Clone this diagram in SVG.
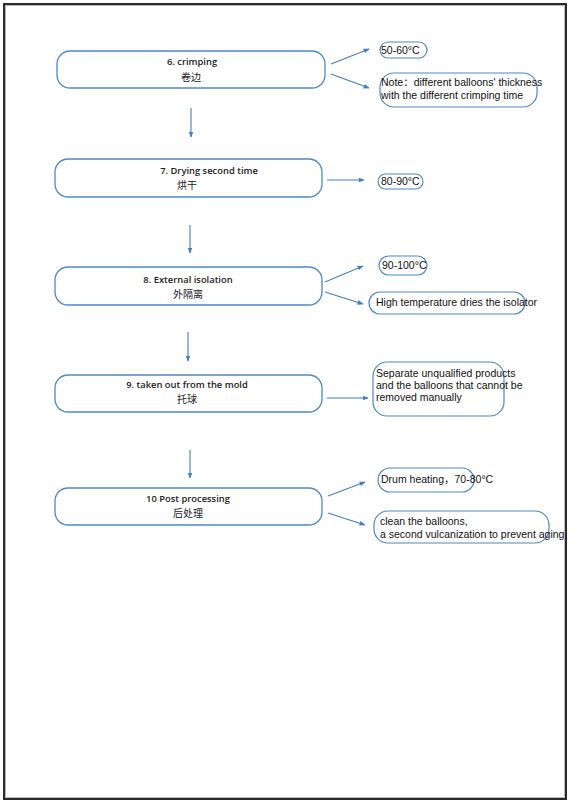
<svg xmlns="http://www.w3.org/2000/svg" width="570" height="804" viewBox="0 0 570 804">
<style>
.node{fill:#fff;stroke:#4f88c6;stroke-width:1.3}
.pill{fill:#fff;stroke:#4f88c6;stroke-width:1.2}
.nt{font-family:"Open Sans","DejaVu Sans","Noto Sans CJK SC",sans-serif;font-size:9.4px;font-weight:600;fill:#222;text-anchor:middle}
.ct{font-family:"Noto Sans CJK SC",sans-serif;font-size:10px;fill:#222;text-anchor:middle}
.st{font-family:"Liberation Sans","Noto Sans CJK SC",sans-serif;font-size:10.5px;fill:#111}
.conn line{stroke:#3f7fc0;stroke-width:1.1;marker-end:url(#ah)}
</style>
<defs>
<marker id="ah" viewBox="0 0 10 10" refX="9" refY="5" markerWidth="6" markerHeight="6" markerUnits="userSpaceOnUse" orient="auto">
<path d="M0,1 L10,5 L0,9 Z" fill="#3f7fc0"/>
</marker>
</defs>
<rect x="0" y="0" width="570" height="804" fill="#fff"/>
<rect x="4" y="4" width="562" height="795" fill="none" stroke="#2a2a2a" stroke-width="2"/>
<rect x="5.5" y="5.5" width="559" height="792" fill="none" stroke="#aaa" stroke-width="0.8"/>

<g id="node6">
<rect class="node" x="57" y="51" width="268" height="37" rx="13"/>
<text class="nt" x="192" y="65">6. crimping</text>
<text class="ct" x="191" y="81">卷边</text>
</g>
<g id="n6a">
<rect class="pill" x="380" y="42" width="47" height="16" rx="8"/>
<text class="st" x="381" y="54">50-60°C</text>
</g>
<g id="n6b">
<rect class="pill" x="380" y="73" width="157" height="34" rx="14"/>
<text class="st" x="381" y="86">Note：different balloons' thickness</text>
<text class="st" x="381" y="99">with the different crimping time</text>
</g>

<g id="node7">
<rect class="node" x="55" y="159" width="267" height="38" rx="13"/>
<text class="nt" x="209" y="174">7. Drying second time</text>
<text class="ct" x="187" y="189">烘干</text>
</g>
<g id="n7a">
<rect class="pill" x="378" y="174" width="45" height="15" rx="7.5"/>
<text class="st" x="381" y="185">80-90°C</text>
</g>

<g id="node8">
<rect class="node" x="55" y="267" width="267" height="38" rx="13"/>
<text class="nt" x="188" y="283">8. External isolation</text>
<text class="ct" x="188" y="298">外隔离</text>
</g>
<g id="n8a">
<rect class="pill" x="379" y="256" width="48" height="19" rx="9.5"/>
<text class="st" x="382" y="269">90-100°C</text>
</g>
<g id="n8b">
<rect class="pill" x="369" y="292" width="156" height="22" rx="11"/>
<text class="st" x="376" y="306">High temperature dries the isolator</text>
</g>

<g id="node9">
<rect class="node" x="55" y="375" width="267" height="37" rx="13"/>
<text class="nt" x="187" y="388">9. taken out from the mold</text>
<text class="ct" x="187" y="403">托球</text>
</g>
<g id="n9a">
<rect class="pill" x="373" y="362" width="131" height="54" rx="14"/>
<text class="st" x="376" y="377">Separate unqualified products</text>
<text class="st" x="376" y="389">and the balloons that cannot be</text>
<text class="st" x="376" y="401">removed manually</text>
</g>

<g id="node10">
<rect class="node" x="55" y="488" width="267" height="37" rx="13"/>
<text class="nt" x="188" y="502">10 Post processing</text>
<text class="ct" x="188" y="517">后处理</text>
</g>
<g id="n10a">
<rect class="pill" x="378" y="468" width="96" height="24" rx="12"/>
<text class="st" x="381" y="483">Drum heating，70-80°C</text>
</g>
<g id="n10b">
<rect class="pill" x="374" y="511" width="175" height="32" rx="14"/>
<text class="st" x="380" y="525">clean the balloons,</text>
<text class="st" x="380" y="538">a second vulcanization to prevent aging</text>
</g>

<g id="connectors" class="conn">
<line x1="331" y1="64" x2="369" y2="49"/>
<line x1="331" y1="74" x2="369" y2="88"/>
<line x1="191" y1="108" x2="191" y2="137"/>
<line x1="327" y1="180" x2="364" y2="180"/>
<line x1="190" y1="225" x2="190" y2="253"/>
<line x1="325" y1="282" x2="363" y2="266"/>
<line x1="325" y1="292" x2="363" y2="304"/>
<line x1="188" y1="332" x2="188" y2="361"/>
<line x1="327" y1="398" x2="368" y2="398"/>
<line x1="190" y1="450" x2="190" y2="478"/>
<line x1="328" y1="496" x2="365" y2="482"/>
<line x1="328" y1="513" x2="365" y2="525"/>
</g>
</svg>
